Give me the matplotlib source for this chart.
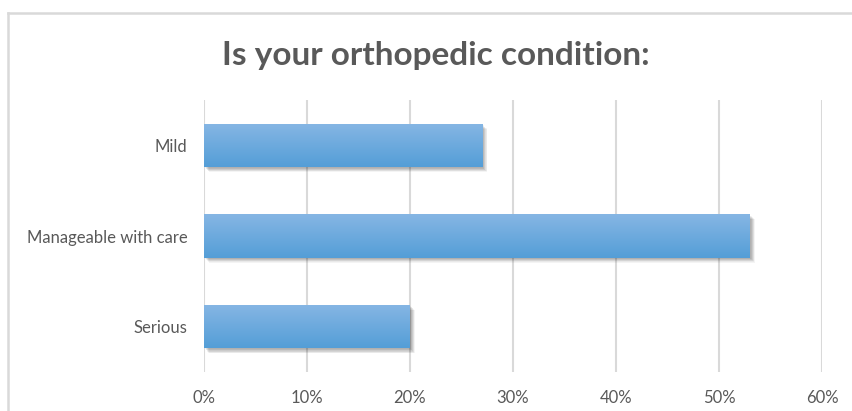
import numpy as np
import matplotlib.pyplot as plt
from matplotlib.patches import Rectangle
from matplotlib.lines import Line2D
from matplotlib import transforms

categories = ["Mild", "Manageable with care", "Serious"]
shares = [27, 53, 20]
xticks = [0, 10, 20, 30, 40, 50, 60]
xlabels = ["0%", "10%", "20%", "30%", "40%", "50%", "60%"]
title = "Is your orthopedic condition:"

plt.rcParams['font.family'] = ['Lato', 'DejaVu Sans']
grey_txt = '#595959'
grid_col = '#d9d9d9'
top_col = np.array([0x86, 0xb6, 0xe4]) / 255
bot_col = np.array([0x54, 0x9e, 0xd7]) / 255

fig = plt.figure(figsize=(8.52, 4.11), dpi=100)
ax = fig.add_axes([204/852, 1 - 372/411, 618/852, 272/411])

# outer chart frame (only top and left edges fall inside the image)
fig.add_artist(Line2D([8/852, 1], [1 - 13/411, 1 - 13/411], color=grid_col, lw=1.8, transform=fig.transFigure))
fig.add_artist(Line2D([8/852, 8/852], [0, 1 - 13/411], color=grid_col, lw=1.8, transform=fig.transFigure))

ypos = np.arange(len(categories))
h = 0.476

grad = np.linspace(0, 1, 64)[:, None, None]
grad_img = top_col[None, None, :] * (1 - grad) + bot_col[None, None, :] * grad

for y, v in zip(ypos, shares):
    # soft drop shadow
    for k in range(8):
        off = transforms.offset_copy(ax.transData, fig=fig, x=0.8 + 0.4 * k, y=-0.8 - 0.4 * k, units='points')
        ax.add_patch(Rectangle((0, y - h / 2), v, h, facecolor='#000000', alpha=0.045,
                               edgecolor='none', transform=off, zorder=2))
    bar = Rectangle((0, y - h / 2), v, h, facecolor='none', edgecolor='none', zorder=3)
    ax.add_patch(bar)
    im = ax.imshow(grad_img, extent=(0, v, y + h / 2, y - h / 2), aspect='auto',
                   interpolation='bilinear', zorder=3)
    im.set_clip_path(bar)

ax.set_xlim(0, 60)
ax.set_ylim(len(categories) - 0.5, -0.5)
ax.set_xticks(xticks)
ax.set_xticklabels(xlabels)
ax.set_yticks(ypos)
ax.set_yticklabels(categories)
ax.grid(axis='x', color=grid_col, lw=1.5, zorder=0)
ax.set_axisbelow(True)
for s in ax.spines.values():
    s.set_visible(False)
ax.tick_params(axis='both', length=0, colors=grey_txt, labelsize=12)
ax.tick_params(axis='x', pad=13)
ax.tick_params(axis='y', pad=12)

fig.text(436/852, 1 - 55/411, title, ha='center', va='center', fontsize=24,
         fontweight='bold', color=grey_txt)

fig.savefig('out.png', dpi=100)
